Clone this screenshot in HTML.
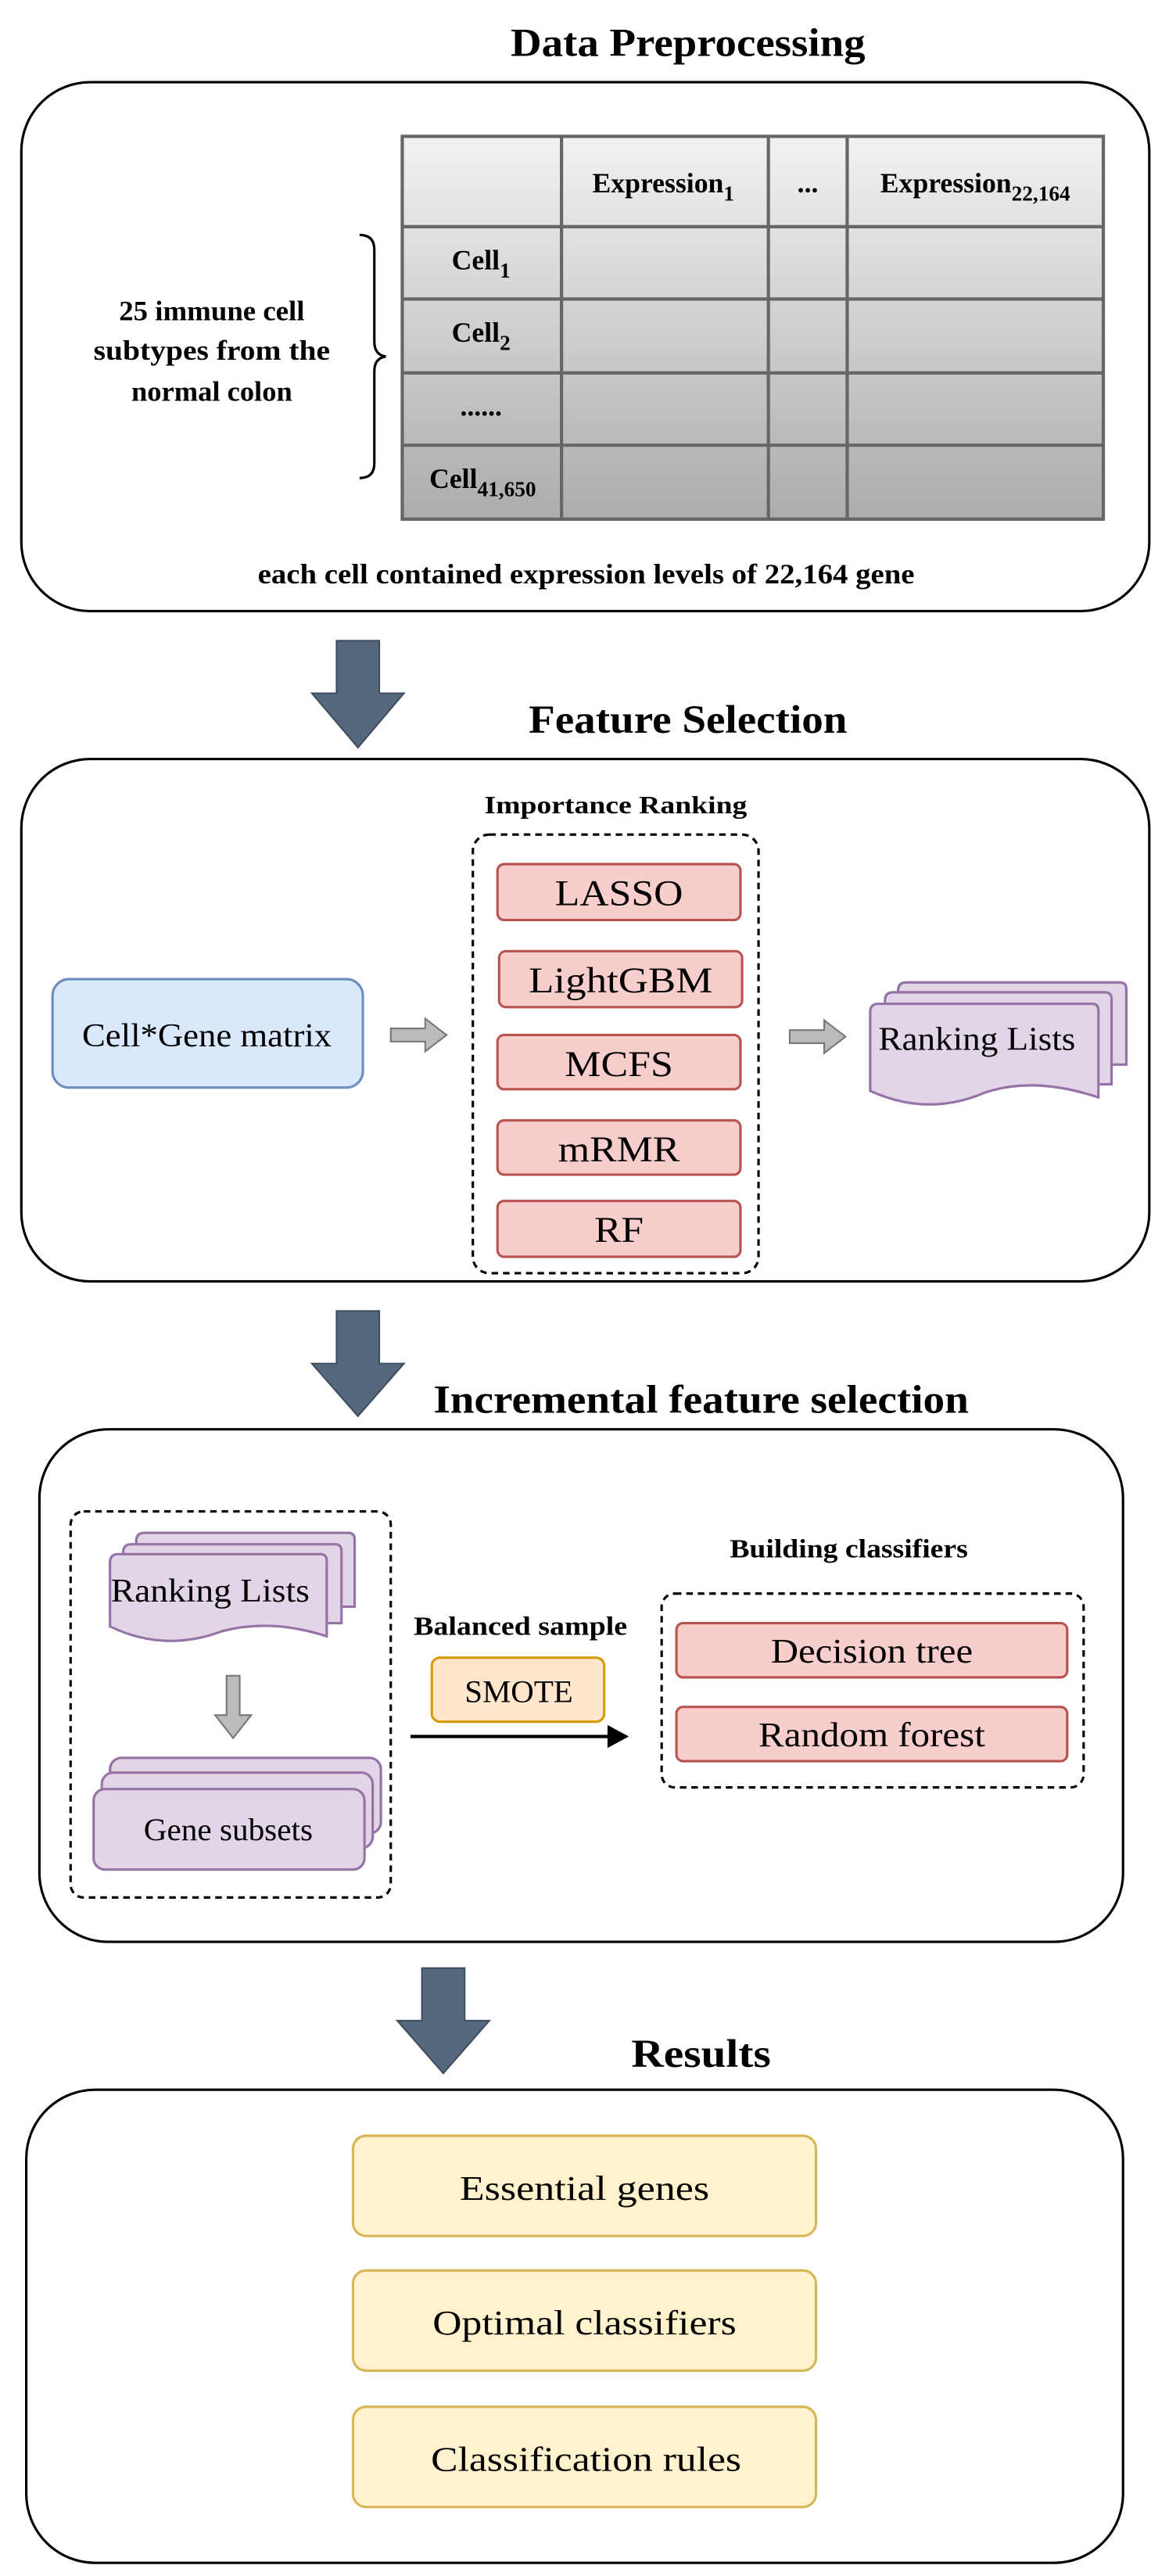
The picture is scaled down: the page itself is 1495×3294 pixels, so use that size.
<!DOCTYPE html>
<html><head><meta charset="utf-8"><style>html,body{margin:0;padding:0;background:#fff}svg{display:block}</style></head>
<body>
<svg width="1495" height="3294" viewBox="0 0 712 1568" preserveAspectRatio="none" xmlns="http://www.w3.org/2000/svg" font-family="'Liberation Serif',serif">
<defs>
<linearGradient id="tg" x1="0" y1="0" x2="0" y2="1"><stop offset="0" stop-color="#f2f2f2"/><stop offset="1" stop-color="#acacac"/></linearGradient>
</defs>
<!-- Section 1 -->
<text x="419" y="34" font-size="24" font-weight="bold" text-anchor="middle" textLength="216" lengthAdjust="spacingAndGlyphs">Data Preprocessing</text>
<rect x="13" y="50" width="687" height="322" rx="42" fill="#fff" stroke="#000" stroke-width="1.5"/>
<rect x="245" y="83" width="427" height="233" fill="url(#tg)" stroke="#666" stroke-width="2"/>
<g stroke="#666" stroke-width="2">
<line x1="342" y1="83" x2="342" y2="316"/><line x1="468" y1="83" x2="468" y2="316"/><line x1="516" y1="83" x2="516" y2="316"/>
<line x1="245" y1="138" x2="672" y2="138"/><line x1="245" y1="182" x2="672" y2="182"/><line x1="245" y1="227" x2="672" y2="227"/><line x1="245" y1="271" x2="672" y2="271"/>
</g>
<g font-size="17" font-weight="bold" text-anchor="middle">
<text x="404" y="117">Expression<tspan font-size="13" dy="5">1</tspan></text>
<text x="492" y="117">...</text>
<text x="594" y="117">Expression<tspan font-size="13" dy="5">22,164</tspan></text>
<text x="293" y="164">Cell<tspan font-size="13" dy="5">1</tspan></text>
<text x="293" y="208">Cell<tspan font-size="13" dy="5">2</tspan></text>
<text x="293" y="253">......</text>
<text x="294" y="297">Cell<tspan font-size="13" dy="5">41,650</tspan></text>
<text x="129" y="195" textLength="113" lengthAdjust="spacingAndGlyphs">25 immune cell</text>
<text x="129" y="219" textLength="144" lengthAdjust="spacingAndGlyphs">subtypes from the</text>
<text x="129" y="244" textLength="98" lengthAdjust="spacingAndGlyphs">normal colon</text>
<text x="357" y="355" textLength="400" lengthAdjust="spacingAndGlyphs">each cell contained expression levels of 22,164 gene</text>
</g>
<path d="M219 143 Q228 143 228 152 L228 208 Q228 216 235 217 Q228 218 228 226 L228 282 Q228 291 219 291" fill="none" stroke="#000" stroke-width="1.5"/>
<!-- arrow 1 -->
<path d="M205 390 H231 V422 H246 L218 455 L190 422 H205 Z" fill="#56687c" stroke="#3f4e5e"/>
<text x="419" y="446" font-size="24" font-weight="bold" text-anchor="middle" textLength="194" lengthAdjust="spacingAndGlyphs">Feature Selection</text>
<!-- Section 2 -->
<rect x="13" y="462" width="687" height="318" rx="42" fill="#fff" stroke="#000" stroke-width="1.5"/>
<text x="375" y="495" font-size="15" font-weight="bold" text-anchor="middle" textLength="160" lengthAdjust="spacingAndGlyphs">Importance Ranking</text>
<rect x="288" y="508" width="174" height="267" rx="10" fill="none" stroke="#000" stroke-width="1.5" stroke-dasharray="4 3"/>
<g fill="#f8cecc" stroke="#b85450" stroke-width="1.5">
<rect x="303" y="526" width="148" height="34" rx="4"/>
<rect x="304" y="579" width="148" height="34" rx="4"/>
<rect x="303" y="630" width="148" height="33" rx="4"/>
<rect x="303" y="682" width="148" height="33" rx="4"/>
<rect x="303" y="731" width="148" height="34" rx="4"/>
</g>
<g font-size="22" text-anchor="middle">
<text x="377" y="551" textLength="78" lengthAdjust="spacingAndGlyphs">LASSO</text>
<text x="378" y="604" textLength="112" lengthAdjust="spacingAndGlyphs">LightGBM</text>
<text x="377" y="655" textLength="66" lengthAdjust="spacingAndGlyphs">MCFS</text>
<text x="377" y="707" textLength="74" lengthAdjust="spacingAndGlyphs">mRMR</text>
<text x="377" y="756" textLength="30" lengthAdjust="spacingAndGlyphs">RF</text>
</g>
<rect x="32" y="596" width="189" height="66" rx="10" fill="#dae8fc" stroke="#6c8ebf" stroke-width="1.5"/>
<text x="126" y="637" font-size="20" text-anchor="middle" textLength="152" lengthAdjust="spacingAndGlyphs">Cell*Gene matrix</text>
<path d="M238 626 H259 V620 L272 630 L259 640 V634 H238 Z" fill="#bbb" stroke="#777"/>
<path d="M481 627 H502 V621 L515 631 L502 641 V635 H481 Z" fill="#bbb" stroke="#777"/>
<g fill="#e1d5e7" stroke="#9673a6" stroke-width="1.5">
<path d="M547 603 Q547 598 552 598 H682 Q686 598 686 602 V648 L547 648 Z"/>
<path d="M539 609 Q539 604 544 604 H673 Q677 604 677 608 V660 L539 660 Z"/>
<path d="M530 616 Q530 611 535 611 H665 Q669 611 669 615 V668 Q630 655 600 665 Q565 680 530 664 Z"/>
</g>
<text x="595" y="639" font-size="20" text-anchor="middle" textLength="120" lengthAdjust="spacingAndGlyphs">Ranking Lists</text>
<!-- arrow 2 -->
<path d="M205 798 H231 V830 H246 L218 862 L190 830 H205 Z" fill="#56687c" stroke="#3f4e5e"/>
<text x="427" y="860" font-size="24" font-weight="bold" text-anchor="middle" textLength="326" lengthAdjust="spacingAndGlyphs">Incremental feature selection</text>
<!-- Section 3 -->
<rect x="24" y="870" width="660" height="312" rx="42" fill="#fff" stroke="#000" stroke-width="1.5"/>
<rect x="43" y="920" width="195" height="235" rx="8" fill="none" stroke="#000" stroke-width="1.5" stroke-dasharray="4 3"/>
<g fill="#e1d5e7" stroke="#9673a6" stroke-width="1.5">
<path d="M83 938 Q83 933 88 933 H212 Q216 933 216 937 V978 L83 978 Z"/>
<path d="M75 945 Q75 940 80 940 H204 Q208 940 208 944 V988 L75 988 Z"/>
<path d="M67 951 Q67 946 72 946 H195 Q199 946 199 950 V996 Q165 985 135 993 Q100 1006 67 990 Z"/>
<rect x="67" y="1070" width="165" height="46" rx="7"/>
<rect x="62" y="1079" width="165" height="46" rx="7"/>
<rect x="57" y="1089" width="165" height="49" rx="7"/>
</g>
<text x="128" y="975" font-size="20" text-anchor="middle" textLength="121" lengthAdjust="spacingAndGlyphs">Ranking Lists</text>
<text x="139" y="1120" font-size="19" text-anchor="middle" textLength="103" lengthAdjust="spacingAndGlyphs">Gene subsets</text>
<path d="M138 1020 H146 V1044 H153 L142 1058 L131 1044 H138 Z" fill="#bbb" stroke="#777"/>
<text x="317" y="995" font-size="16" font-weight="bold" text-anchor="middle" textLength="130" lengthAdjust="spacingAndGlyphs">Balanced sample</text>
<rect x="263" y="1009" width="105" height="39" rx="5" fill="#ffe6cc" stroke="#d79b00" stroke-width="1.5"/>
<text x="316" y="1036" font-size="19" text-anchor="middle" textLength="66" lengthAdjust="spacingAndGlyphs">SMOTE</text>
<line x1="250" y1="1057" x2="373" y2="1057" stroke="#000" stroke-width="2"/>
<path d="M370 1050 L383 1057 L370 1064 Z" fill="#000"/>
<text x="517" y="948" font-size="16" font-weight="bold" text-anchor="middle" textLength="145" lengthAdjust="spacingAndGlyphs">Building classifiers</text>
<rect x="403" y="970" width="257" height="118" rx="8" fill="none" stroke="#000" stroke-width="1.5" stroke-dasharray="4 3"/>
<rect x="412" y="988" width="238" height="33" rx="4" fill="#f8cecc" stroke="#b85450" stroke-width="1.5"/>
<rect x="412" y="1039" width="238" height="33" rx="4" fill="#f8cecc" stroke="#b85450" stroke-width="1.5"/>
<text x="531" y="1012" font-size="21" text-anchor="middle" textLength="123" lengthAdjust="spacingAndGlyphs">Decision tree</text>
<text x="531" y="1063" font-size="21" text-anchor="middle" textLength="138" lengthAdjust="spacingAndGlyphs">Random forest</text>
<!-- arrow 3 -->
<path d="M257 1198 H283 V1230 H298 L270 1262 L242 1230 H257 Z" fill="#56687c" stroke="#3f4e5e"/>
<text x="427" y="1258" font-size="24" font-weight="bold" text-anchor="middle" textLength="85" lengthAdjust="spacingAndGlyphs">Results</text>
<!-- Section 4 -->
<rect x="16" y="1272" width="668" height="288" rx="42" fill="#fff" stroke="#000" stroke-width="1.5"/>
<g fill="#fff2cc" stroke="#d6b656" stroke-width="1.5">
<rect x="215" y="1300" width="282" height="61" rx="8"/>
<rect x="215" y="1382" width="282" height="61" rx="8"/>
<rect x="215" y="1465" width="282" height="61" rx="8"/>
</g>
<g font-size="21" text-anchor="middle">
<text x="356" y="1339" textLength="152" lengthAdjust="spacingAndGlyphs">Essential genes</text>
<text x="356" y="1421" textLength="185" lengthAdjust="spacingAndGlyphs">Optimal classifiers</text>
<text x="357" y="1504" textLength="189" lengthAdjust="spacingAndGlyphs">Classification rules</text>
</g>
</svg>
</body></html>
